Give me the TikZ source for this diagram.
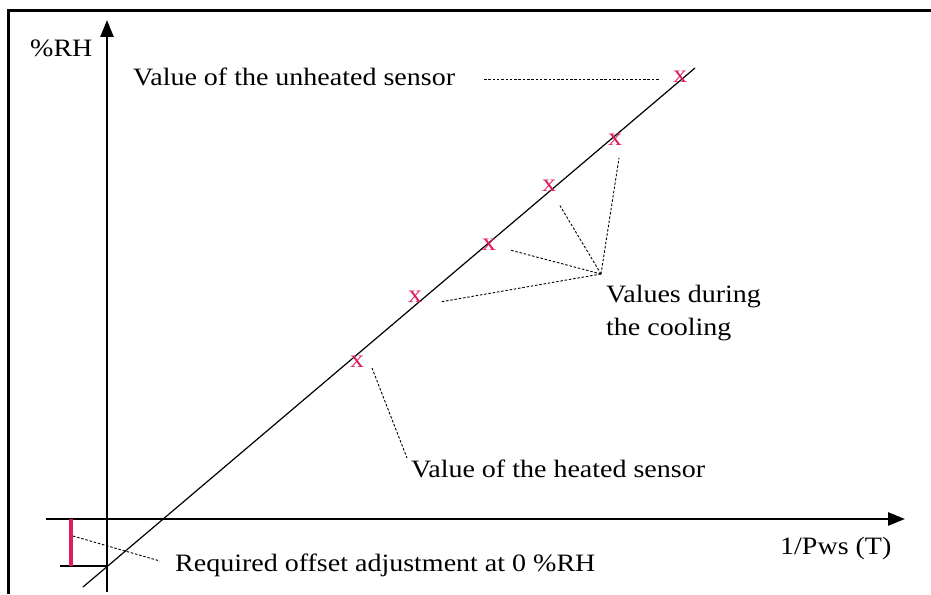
\documentclass[tikz,border=0pt]{standalone}
\usepackage{fontspec}
\setmainfont[FakeStretch=1.12]{Liberation Serif}
\usetikzlibrary{arrows.meta}
\definecolor{markred}{RGB}{220,30,90}

\begin{document}
\begin{tikzpicture}[x=1pt, y=-1pt,
  every node/.style={inner sep=0pt, font=\fontsize{25}{33}\selectfont},
  axis/.style={line width=2.5pt, -{Triangle[length=17pt,width=13pt]}},
  guide/.style={dash pattern=on 2.5pt off 1.8pt, line width=0.9pt},
  ptmark/.style={text=markred}]
  \useasboundingbox (0,0) rectangle (931,594);
  \draw[line width=3pt] (8,594) -- (8,11) -- (931,11);
  \draw[axis] (107,592) -- (107,20);
  \draw[axis] (46,519) -- (905,519);
  \draw[line width=1.2pt] (83,587) -- (695,68);
  \draw[line width=1.5pt] (60,566) -- (107,566);
  \draw[markred, line width=4pt] (71,519) -- (71,566);

  \node[anchor=west] (rh) at (30,48) {\%RH};
  \node[anchor=west] (pws) at (780,548) {1/Pws (T)};
  \node[anchor=west] (unheated) at (133,77) {Value of the unheated sensor};
  \node[anchor=west, align=left] (cooling) at (606,313) {Values during\\the cooling};
  \node[anchor=west] (heated) at (411,469) {Value of the heated sensor};
  \node[anchor=west] (offset) at (175,565) {Required offset adjustment at 0 \%RH};

  \node[ptmark] (p1) at (357,362) {x};
  \node[ptmark] (p2) at (415,297) {x};
  \node[ptmark] (p3) at (489,245) {x};
  \node[ptmark] (p4) at (549,186) {x};
  \node[ptmark] (p5) at (615,140) {x};
  \node[ptmark] (p6) at (680,77) {x};

  \coordinate (hub) at (601,274);
  \coordinate (e2) at (440,302);
  \coordinate (e3) at (510,250);
  \coordinate (e4) at (559,204);
  \coordinate (e5) at (619,158);
  \coordinate (e1) at (372,368);
  \coordinate (h1) at (407,458);
  \coordinate (u1) at (484,79);
  \coordinate (u2) at (660,79);
  \coordinate (o1) at (73,536);
  \coordinate (o2) at (160,561);

  \draw[guide] (hub) -- (e2);
  \draw[guide] (hub) -- (e3);
  \draw[guide] (hub) -- (e4);
  \draw[guide] (hub) -- (e5);
  \draw[guide] (e1) -- (h1);
  \draw[guide] (u1) -- (u2);
  \draw[guide] (o1) -- (o2);
\end{tikzpicture}
\end{document}
